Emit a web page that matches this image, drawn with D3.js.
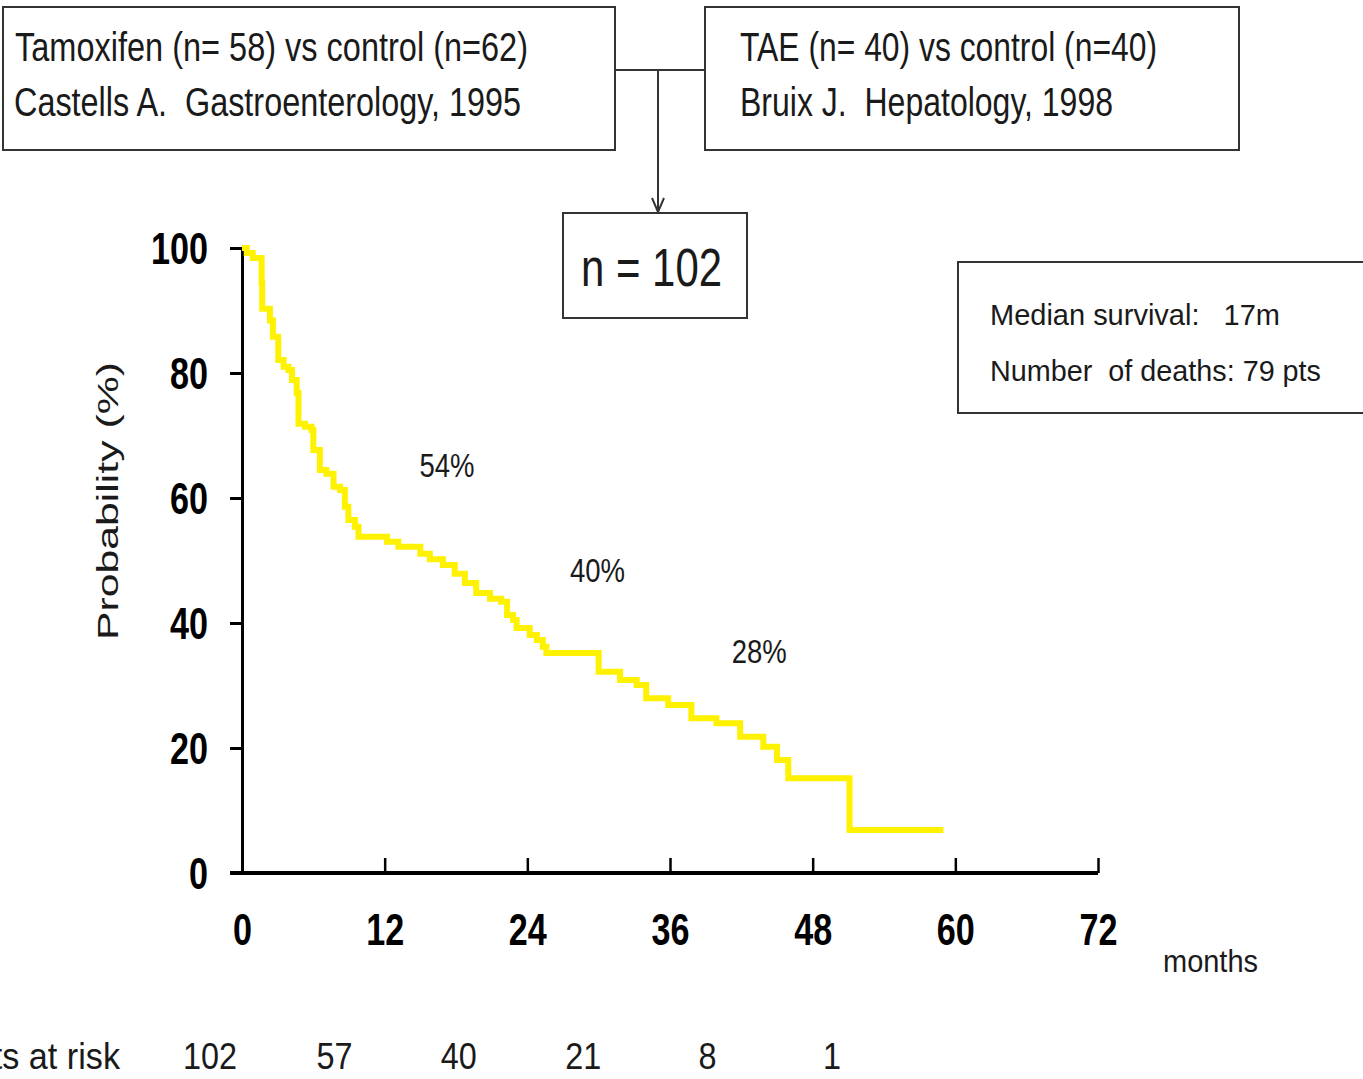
<!DOCTYPE html>
<html>
<head>
<meta charset="utf-8">
<script src="https://cdn.jsdelivr.net/npm/d3@7/dist/d3.min.js"></script>
<style>
  html, body { margin: 0; padding: 0; background: #fff; overflow: hidden; }
  svg { display: block; }
  text { white-space: pre; }
</style>
</head>
<body>
<script>
// ---- Data ----
const months = [0, 0.4, 0.9, 1.65, 1.7, 2.35, 2.6, 3.05, 3.5, 3.9, 4.2, 4.6, 4.75, 5.3, 5.85, 6.0, 6.55, 7.1, 7.7, 8.25, 8.65, 8.95, 9.5, 9.8, 12.2, 13.15, 15.0, 15.8, 16.9, 17.9, 18.75, 19.7, 20.86, 21.8, 22.3, 22.8, 23.1, 24.2, 24.8, 25.3, 25.6, 30.0, 31.8, 33.2, 34.0, 35.85, 37.8, 39.9, 41.9, 43.85, 45.0, 45.95, 51.1, 59.0];
const survival = [100, 99.2, 98.4, 94.5, 90.3, 88.4, 85.8, 82.1, 81.0, 80.5, 78.9, 76.8, 71.9, 71.4, 70.9, 67.7, 64.5, 63.9, 61.8, 61.3, 58.6, 56.5, 55.4, 53.8, 53.0, 52.2, 51.1, 50.2, 49.3, 47.9, 46.4, 44.8, 43.9, 43.4, 41.3, 40.5, 39.2, 38.1, 37.3, 36.2, 35.2, 32.2, 30.9, 30.1, 27.95, 26.9, 24.75, 23.95, 21.8, 20.2, 18.1, 15.15, 6.9, 6.9];
const xTicks = [0, 12, 24, 36, 48, 60, 72];
const yTicks = [0, 20, 40, 60, 80, 100];
const atRiskMonths = [0, 12, 24, 36, 48, 60];
const atRisk = [102, 57, 40, 21, 8, 1];
const rateLabels = ["54%", "40%", "28%"];
const study1 = ["Tamoxifen (n= 58) vs control (n=62)", "Castells A.  Gastroenterology, 1995"];
const study2 = ["TAE (n= 40) vs control (n=40)", "Bruix J.  Hepatology, 1998"];
const pooled = "n = 102";
const summary = ["Median survival:   17m", "Number  of deaths: 79 pts"];

// ---- Setup ----
const W = 1363, H = 1079;
const NARROW = "'Liberation Sans Narrow', 'Arial Narrow', 'Liberation Sans', Arial, sans-serif";
const svg = d3.select("body").append("svg").attr("width", W).attr("height", H);

function txt(str, x, y, size, len, opts = {}) {
  const t = svg.append("text")
    .attr("x", x).attr("y", y)
    .attr("xml:space", "preserve")
    .attr("font-family", opts.family || NARROW)
    .attr("font-size", size)
    .attr("font-weight", opts.weight || "normal")
    .attr("fill", opts.fill || "#1a1a1a")
    .attr("text-anchor", opts.anchor || "start")
    .text(str);
  if (len) t.attr("textLength", len).attr("lengthAdjust", "spacingAndGlyphs");
  return t;
}
function box(x, y, w, h) {
  svg.append("rect").attr("x", x).attr("y", y).attr("width", w).attr("height", h)
    .attr("fill", "#fff").attr("stroke", "#333").attr("stroke-width", 2);
}

// ---- Flow boxes ----
box(3, 7, 612, 143);
box(705, 7, 534, 143);
svg.append("line").attr("x1", 615).attr("x2", 705).attr("y1", 70).attr("y2", 70)
  .attr("stroke", "#333").attr("stroke-width", 2);
svg.append("line").attr("x1", 658).attr("x2", 658).attr("y1", 70).attr("y2", 211)
  .attr("stroke", "#333").attr("stroke-width", 2);
svg.append("path").attr("d", "M652,198 L658,212 L664,198").attr("fill", "none")
  .attr("stroke", "#333").attr("stroke-width", 2);
box(563, 213, 184, 105);
box(958, 262, 420, 151);

txt(study1[0], 15, 61, 40, 513);
txt(study1[1], 14, 116, 40, 507);
txt(study2[0], 740, 61, 40, 417);
txt(study2[1], 740, 116, 40, 373);
txt(pooled, 581, 286, 54, 141);
txt(summary[0], 990, 325, 29, 290);
txt(summary[1], 990, 381, 29, 331);

// ---- Scales ----
const x = d3.scaleLinear().domain([0, 72]).range([242, 1098]);
const y = d3.scaleLinear().domain([0, 100]).range([873, 248]);

// ---- Axes ----
const yAxis = svg.append("g").attr("transform", `translate(${x(0)},0)`)
  .call(d3.axisLeft(y).tickValues(yTicks).tickSize(12).tickSizeOuter(0).tickPadding(22));
yAxis.select(".domain").attr("stroke", "#000").attr("stroke-width", 3);
yAxis.selectAll(".tick line").attr("stroke", "#000").attr("stroke-width", 3);
yAxis.selectAll(".tick text")
  .attr("font-family", NARROW).attr("font-size", 44).attr("font-weight", "bold").attr("fill", "#000")
  .attr("dy", "0.36em")
  .each(function(d) { d3.select(this).attr("textLength", String(d).length * 19).attr("lengthAdjust", "spacingAndGlyphs"); });

const xAxis = svg.append("g").attr("transform", `translate(0,${y(0)})`)
  .call(d3.axisBottom(x).tickValues(xTicks).tickSize(-15).tickSizeOuter(0).tickPadding(0));
xAxis.select(".domain").remove();
xAxis.selectAll(".tick line").attr("stroke", "#000").attr("stroke-width", 2.5);
xAxis.selectAll(".tick text")
  .attr("font-family", NARROW).attr("font-size", 44).attr("font-weight", "bold").attr("fill", "#000")
  .attr("y", 72).attr("dy", 0)
  .each(function(d) { d3.select(this).attr("textLength", String(d).length * 19).attr("lengthAdjust", "spacingAndGlyphs"); });
svg.append("line").attr("x1", x(0) - 12).attr("x2", x(72)).attr("y1", y(0)).attr("y2", y(0))
  .attr("stroke", "#000").attr("stroke-width", 4);

// Y axis title
svg.append("text")
  .attr("transform", `translate(118,501) rotate(-90)`)
  .attr("text-anchor", "middle")
  .attr("font-family", "'Liberation Sans', Arial, sans-serif")
  .attr("font-size", 30).attr("fill", "#1a1a1a")
  .attr("textLength", 278).attr("lengthAdjust", "spacingAndGlyphs")
  .text("Probability (%)");

txt("months", 1163, 972, 31, 95);

// ---- Curve ----
const pts = months.map((m, i) => [m, survival[i]]);
svg.append("path")
  .datum(pts)
  .attr("fill", "none")
  .attr("stroke", "#fff200")
  .attr("stroke-width", 6)
  .attr("stroke-linejoin", "miter")
  .attr("d", d3.line().x(d => x(d[0])).y(d => y(d[1])).curve(d3.curveStepAfter));

// ---- Rate labels ----
const rateX = [17.24, 29.9, 43.5];
const rateY = [63.4, 46.6, 33.6];
rateLabels.forEach((s, i) => txt(s, x(rateX[i]), y(rateY[i]), 33, 55, { anchor: "middle" }));

// ---- At risk row ----
const risk = d3.scalePoint().domain(atRiskMonths).range([210, 832]);
txt("Pts at risk", 120, 1069, 37, 150, { anchor: "end" });
atRiskMonths.forEach((m, i) => {
  const s = String(atRisk[i]);
  txt(s, risk(m), 1069, 37, s.length * 18, { anchor: "middle" });
});
</script>
</body>
</html>
